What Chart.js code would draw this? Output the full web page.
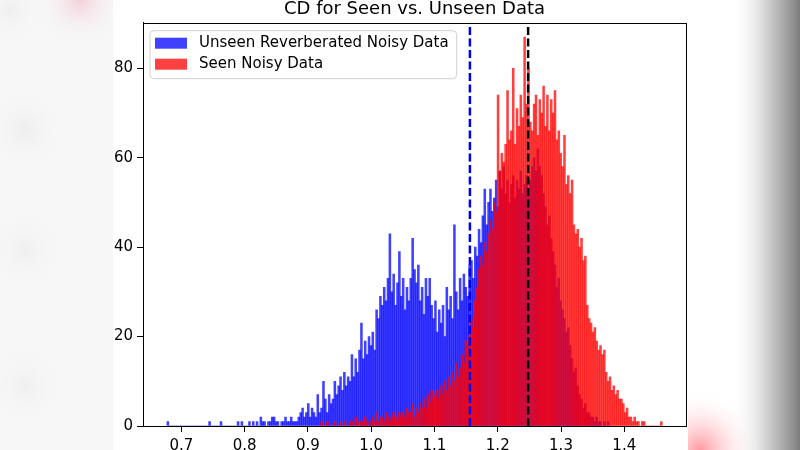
<!DOCTYPE html>
<html>
<head>
<meta charset="utf-8">
<script src="https://cdn.jsdelivr.net/npm/chart.js@4.4.0/dist/chart.umd.min.js"></script>
<style>
  html, body { margin: 0; padding: 0; background: #fff; }
  #wrap { width: 800px; height: 450px; }
</style>
</head>
<body>
<div id="wrap"><canvas id="chart"></canvas></div>
<script>
// histogram bins: both series share the same bin width
var binWidth = 0.003;
var unseenStart = 0.677;
var seenStart = 0.92;

// counts per bin, Unseen Reverberated Noisy Data (from 0.677)
var unseenCounts = [
  1,0,0,0,0,0,0,0,0,0,
  0,0,0,0,0,0,0,0,0,0,
  0,0,1,0,0,0,0,0,1,0,
  0,0,0,0,0,0,0,1,0,1,
  0,0,0,1,0,1,0,1,0,2,
  1,1,0,1,1,2,2,1,1,0,
  1,1,2,1,1,2,1,1,1,2,
  3,4,2,3,5,2,4,3,2,7,
  3,4,10,6,3,7,5,6,10,7,
  9,11,8,12,9,11,10,16,11,15,
  12,17,23,15,19,16,20,18,21,17,
  26,24,29,27,31,28,33,43,30,34,
  27,32,39,29,33,26,31,28,33,42,
  35,32,36,28,31,25,33,29,33,27,
  24,28,21,26,23,27,20,31,26,29,
  24,45,30,26,33,28,34,31,29,36,
  37,33,40,38,44,41,47,53,45,50,
  53,48,51,55,49,57,53,58,52,55,
  50,54,56,51,55,53,57,52,54,56,
  53,55,58,60,57,62,58,56,52,49,
  45,47,42,39,36,31,33,28,26,24,
  21,22,18,15,12,13,9,7,6,4,
  5,3,3,2,2,1,2,1,1,0,
  1,0,1
];

// counts per bin, Seen Noisy Data (from 0.92)
var seenCounts = [
  1,0,0,1,0,0,0,1,0,0,
  1,0,1,0,0,1,1,0,2,1,
  0,1,1,2,1,0,1,2,1,3,
  1,2,2,1,3,2,1,2,3,2,
  1,3,2,3,2,4,3,3,5,2,
  4,3,5,4,6,4,7,5,8,6,
  7,8,6,9,7,10,8,11,9,12,
  10,14,11,13,16,14,19,17,20,24,
  22,28,31,35,38,36,41,39,43,46,
  44,50,48,74,57,61,59,63,75,64,
  66,80,63,71,67,74,69,87,72,80,
  68,66,72,74,65,73,70,76,67,74,
  66,73,70,75,64,66,61,58,65,54,
  56,52,55,45,43,44,40,42,37,38,
  27,24,23,21,22,19,17,18,16,17,
  12,10,11,8,9,7,8,6,6,5,
  3,4,2,2,1,2,1,1,0,1,
  1,0,0,0,0,0,0,0,0,1
];

// dashed reference lines
var unseenMean = 1.156;
var seenMean = 1.248;

var xTicks = [0.7, 0.8, 0.9, 1.0, 1.1, 1.2, 1.3, 1.4];
var yTicks = [0, 20, 40, 60, 80];
var xMin = 0.6392, xMax = 1.4976;
var yMin = 0, yMax = 90.2;

var titleText = 'CD for Seen vs. Unseen Data';
var unseenLabel = 'Unseen Reverberated Noisy Data';
var seenLabel = 'Seen Noisy Data';

function toBins(start, counts) {
  return counts.map(function (c, i) {
    var mid = start + (i + 0.5) * binWidth;
    return { x: Math.round(mid * 100000) / 100000, y: c };
  });
}

var FONT = "'DejaVu Sans', sans-serif";

// blurry photo edges around the figure
var backdrop = {
  id: 'backdrop',
  beforeDraw: function (chart) {
    var ctx = chart.ctx;
    var W = chart.width, H = chart.height;
    ctx.save();
    ctx.fillStyle = '#ffffff';
    ctx.fillRect(0, 0, W, H);
    // left band
    ctx.fillStyle = '#f7f7f7';
    ctx.fillRect(0, 0, 113, H);
    var blobs = [[25, 130, 40, 'rgba(228,228,228,0.5)'], [25, 250, 40, 'rgba(230,230,230,0.45)'],
                 [25, 385, 40, 'rgba(230,230,230,0.45)'], [80, 0, 45, 'rgba(240,170,190,0.5)'],
                 [10, 10, 35, 'rgba(232,232,232,0.5)']];
    blobs.forEach(function (b) {
      var g = ctx.createRadialGradient(b[0], b[1], 0, b[0], b[1], b[2]);
      g.addColorStop(0, b[3]);
      g.addColorStop(1, 'rgba(247,247,247,0)');
      ctx.fillStyle = g;
      ctx.fillRect(Math.max(0, b[0] - b[2]), Math.max(0, b[1] - b[2]), 2 * b[2], 2 * b[2]);
    });
    // right band
    var rg = ctx.createLinearGradient(730, 0, 800, 0);
    rg.addColorStop(0, 'rgba(255,255,255,0)');
    rg.addColorStop(0.5, '#d6d6d6');
    rg.addColorStop(0.85, '#9a9a9a');
    rg.addColorStop(1, '#7c7c7c');
    ctx.fillStyle = rg;
    ctx.fillRect(730, 0, 70, H);
    var pg = ctx.createRadialGradient(700, 450, 0, 700, 450, 60);
    pg.addColorStop(0, 'rgba(255,110,120,0.7)');
    pg.addColorStop(1, 'rgba(255,255,255,0)');
    ctx.fillStyle = pg;
    ctx.fillRect(688, 390, 112, 60);
    ctx.restore();
  }
};

// matplotlib-like title, frame and legend box
var frameAndLegend = {
  id: 'frameAndLegend',
  afterDraw: function (chart) {
    var ctx = chart.ctx, a = chart.chartArea;
    ctx.save();
    ctx.fillStyle = '#000';
    ctx.font = '18px ' + FONT;
    ctx.textAlign = 'center';
    ctx.textBaseline = 'middle';
    ctx.fillText(titleText, (a.left + a.right) / 2, 9.5);

    ctx.strokeStyle = '#000';
    ctx.lineWidth = 1;
    ctx.strokeRect(Math.round(a.left) + 0.5, Math.round(a.top) + 0.5,
                   Math.round(a.right - a.left), Math.round(a.bottom - a.top));

    var items = chart.data.datasets.filter(function (d) { return d.type !== 'line'; });
    items.sort(function (p, q) { return q.order - p.order; });
    ctx.font = '15px ' + FONT;
    var tw = 0;
    items.forEach(function (d) { tw = Math.max(tw, ctx.measureText(d.label).width); });
    var lx = a.left + 7, ly = a.top + 8;
    var w = 49 + tw + 8, h = 48;
    ctx.beginPath();
    if (ctx.roundRect) ctx.roundRect(lx, ly, w, h, 4); else ctx.rect(lx, ly, w, h);
    ctx.fillStyle = 'rgba(255,255,255,0.8)';
    ctx.fill();
    ctx.strokeStyle = '#d0d0d0';
    ctx.stroke();
    items.forEach(function (d, i) {
      var cy = ly + 12.5 + i * 21;
      ctx.fillStyle = d.backgroundColor;
      ctx.fillRect(lx + 5, cy - 5.5, 32, 11);
      ctx.fillStyle = '#000';
      ctx.textBaseline = 'middle';
      ctx.textAlign = 'left';
      ctx.fillText(d.label, lx + 49, cy);
    });
    ctx.restore();
  }
};

var ctx = document.getElementById('chart').getContext('2d');
new Chart(ctx, {
  type: 'bar',
  data: {
    datasets: [
      {
        type: 'line', label: 'unseen mean',
        data: [{ x: unseenMean, y: yMin }, { x: unseenMean, y: yMax }],
        borderColor: '#0000ee', borderWidth: 2.5, borderDash: [8, 3.5],
        pointRadius: 0, order: 0
      },
      {
        type: 'line', label: 'seen mean',
        data: [{ x: seenMean, y: yMin }, { x: seenMean, y: yMax }],
        borderColor: '#000000', borderWidth: 2.5, borderDash: [8, 3.5],
        pointRadius: 0, order: 0
      },
      {
        label: seenLabel,
        data: toBins(seenStart, seenCounts),
        backgroundColor: 'rgba(255,0,0,0.75)',
        borderWidth: 0, grouped: false,
        barPercentage: 1, categoryPercentage: 1, order: 1
      },
      {
        label: unseenLabel,
        data: toBins(unseenStart, unseenCounts),
        backgroundColor: 'rgba(0,0,255,0.75)',
        borderWidth: 0, grouped: false,
        barPercentage: 1, categoryPercentage: 1, order: 2
      }
    ]
  },
  options: {
    responsive: true,
    maintainAspectRatio: false,
    animation: false,
    layout: { padding: { left: 0, right: 114, top: 22.7, bottom: 0 } },
    plugins: {
      legend: { display: false },
      tooltip: { enabled: false },
      title: { display: false }
    },
    scales: {
      x: {
        type: 'linear', min: xMin, max: xMax, offset: false,
        afterBuildTicks: function (s) { s.ticks = xTicks.map(function (v) { return { value: v }; }); },
        afterFit: function (s) { s.height = 24; },
        ticks: {
          color: '#000', font: { family: FONT, size: 15 }, padding: 5,
          maxRotation: 0, autoSkip: false,
          callback: function (v) { return Number(v).toFixed(1); }
        },
        grid: { offset: false, drawOnChartArea: false, drawTicks: true, tickLength: 6, tickColor: '#000' },
        border: { color: '#000', width: 1 }
      },
      y: {
        type: 'linear', min: yMin, max: yMax,
        afterBuildTicks: function (s) { s.ticks = yTicks.map(function (v) { return { value: v }; }); },
        afterFit: function (s) { s.width = 143; },
        ticks: { color: '#000', font: { family: FONT, size: 15 }, padding: 4 },
        grid: { drawOnChartArea: false, drawTicks: true, tickLength: 6, tickColor: '#000' },
        border: { color: '#000', width: 1 }
      }
    }
  },
  plugins: [backdrop, frameAndLegend]
});
</script>
</body>
</html>
